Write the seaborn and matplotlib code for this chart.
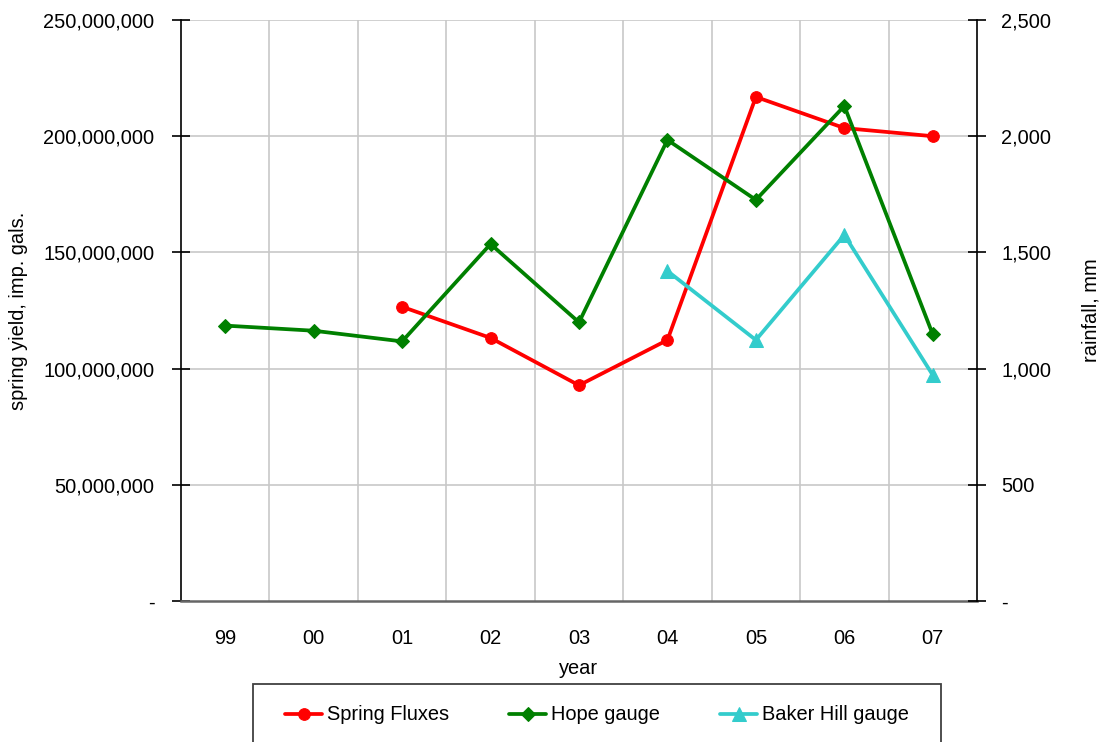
import numpy as np
import pandas as pd
import matplotlib
matplotlib.use("Agg")
import matplotlib.pyplot as plt
import seaborn as sns
from matplotlib.ticker import FuncFormatter, FixedLocator
from matplotlib.patches import Rectangle

# ---- data ----
years = ["99", "00", "01", "02", "03", "04", "05", "06", "07"]
spring_fluxes = [np.nan, np.nan, 126.6e6, 113.2e6, 92.8e6, 112.3e6, 216.9e6, 203.5e6, 200.0e6]
hope_gauge = [1185, 1163, 1117, 1536, 1199, 1984, 1726, 2130, 1147]
baker_hill_gauge = [np.nan, np.nan, np.nan, np.nan, np.nan, 1420, 1123, 1575, 972]

left_ticks = [0, 50e6, 100e6, 150e6, 200e6, 250e6]
right_ticks = [0, 500, 1000, 1500, 2000, 2500]

RED = "#FF0000"
GREEN = "#008000"
CYAN = "#33CCCC"
FS = 14.4

sns.set_theme(style="white")
plt.rcParams["font.family"] = ["Liberation Sans", "DejaVu Sans"]
plt.rcParams["font.size"] = FS
plt.rcParams["text.color"] = "black"
plt.rcParams["axes.labelcolor"] = "black"
plt.rcParams["xtick.color"] = "black"
plt.rcParams["ytick.color"] = "black"

fig = plt.figure(figsize=(11.01, 7.42), dpi=100)
ax = fig.add_axes([181 / 1101, 1 - 601 / 742, (977 - 181) / 1101, (601 - 20) / 742])
ax2 = ax.twinx()

x = np.arange(len(years))
df = pd.DataFrame({"x": x, "spring": spring_fluxes, "hope": hope_gauge, "baker": baker_hill_gauge})

lw = 2.7
sns.lineplot(data=df, x="x", y="spring", ax=ax, color=RED, marker="o", markersize=8.4,
             markeredgecolor=RED, linewidth=lw, label="Spring Fluxes", legend=False)
sns.lineplot(data=df, x="x", y="hope", ax=ax2, color=GREEN, marker="D", markersize=7.4,
             markeredgecolor=GREEN, linewidth=lw, label="Hope gauge", legend=False)
sns.lineplot(data=df, x="x", y="baker", ax=ax2, color=CYAN, marker="^", markersize=9.5,
             markeredgecolor=CYAN, linewidth=lw, label="Baker Hill gauge", legend=False)

for a in (ax, ax2):
    a.set_xlim(-0.5, len(years) - 0.5)
ax.set_ylim(0, 250e6)
ax2.set_ylim(0, 2500)

fmt = FuncFormatter(lambda v, p: "-" if v == 0 else f"{v:,.0f}")

# x axis: labels at centres, tick marks/grid at boundaries
ax.xaxis.set_major_locator(FixedLocator(x))
ax.set_xticklabels(years)
ax.xaxis.set_minor_locator(FixedLocator(np.arange(-0.5, len(years), 1.0)))
ax.tick_params(axis="x", which="major", length=0, pad=20, labelsize=FS, labelcolor="black")
ax.tick_params(axis="x", which="minor", length=13, direction="inout", width=1.2, color="#555555")
ax.grid(False)
for xb in np.arange(0.5, len(years) - 1, 1.0):
    ax.axvline(xb, color="#c8c8c8", linewidth=1.2, zorder=0)

ax.set_yticks(left_ticks)
ax.yaxis.set_major_formatter(fmt)
ax.tick_params(axis="y", which="major", length=13, direction="inout", width=1.2,
               color="black", labelcolor="black", pad=12.6, labelsize=FS, left=True)
for yv in left_ticks[1:]:
    ax.axhline(yv, color="#c8c8c8", linewidth=1.2, zorder=0)

ax2.set_yticks(right_ticks)
ax2.yaxis.set_major_formatter(fmt)
ax2.tick_params(axis="y", which="major", length=13, direction="inout", width=1.2,
                color="black", labelcolor="black", pad=11, labelsize=FS, right=True)
ax2.grid(False)

ax.set_xlabel("year", fontsize=FS, labelpad=8, color="black")
ax.set_ylabel("spring yield, imp. gals.", fontsize=FS, labelpad=11, color="black")
ax2.set_ylabel("rainfall, mm", fontsize=FS, labelpad=22, color="black")

for a in (ax, ax2):
    a.spines["top"].set_visible(False)
ax.spines["right"].set_visible(False)
ax.spines["left"].set_color("black")
ax.spines["left"].set_linewidth(1.2)
ax.spines["bottom"].set_color("#666666")
ax.spines["bottom"].set_linewidth(1.8)
ax2.spines["left"].set_visible(False)
ax2.spines["bottom"].set_visible(False)
ax2.spines["right"].set_color("black")
ax2.spines["right"].set_linewidth(1.2)

# legend
h1, l1 = ax.get_legend_handles_labels()
h2, l2 = ax2.get_legend_handles_labels()
leg = fig.legend(h1 + h2, l1 + l2, loc="center left", bbox_to_anchor=(285 / 1101, 1 - 715 / 742),
                 ncol=3, frameon=False, borderpad=0, handlelength=1.85, handletextpad=0.25,
                 columnspacing=3.0, fontsize=FS, borderaxespad=0)
for t in leg.get_texts():
    t.set_color("black")
fig.patches.append(Rectangle((253 / 1101, -0.02), (941 - 253) / 1101, (1 - 684 / 742) + 0.02,
                             transform=fig.transFigure, fill=False, edgecolor="#404040",
                             linewidth=1.3))

fig.savefig("out.png", dpi=100)
